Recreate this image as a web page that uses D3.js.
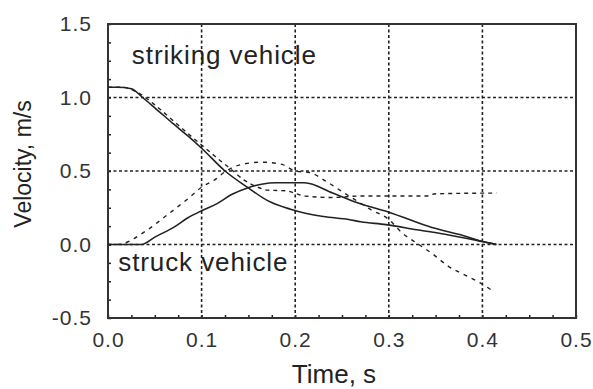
<!DOCTYPE html>
<html>
<head>
<meta charset="utf-8">
<script src="https://cdn.jsdelivr.net/npm/d3@7"></script>
<style>
  html, body { margin: 0; padding: 0; background: #fff; }
  svg { display: block; font-family: "Liberation Sans", Arial, sans-serif; }
</style>
</head>
<body>
<svg id="chart" width="593" height="389"></svg>
<script>
// Velocity vs time for the striking and struck vehicles (solid and dashed traces)

var xTicks = [0, 0.1, 0.2, 0.3, 0.4, 0.5];
var yTicks = [-0.5, 0, 0.5, 1.0, 1.5];

// striking vehicle, solid trace
var strikingSolidT = [0, 0.01, 0.025, 0.037, 0.05, 0.07, 0.085, 0.1, 0.125, 0.15, 0.17, 0.195, 0.23, 0.257, 0.27, 0.297, 0.33, 0.36, 0.4, 0.415];
var strikingSolidV = [1.07, 1.07, 1.06, 1.0, 0.93, 0.82, 0.74, 0.655, 0.5, 0.385, 0.3, 0.24, 0.19, 0.17, 0.155, 0.135, 0.1, 0.07, 0.02, 0.0];

// striking vehicle, dashed trace
var strikingDashT = [0, 0.015, 0.03, 0.05, 0.07, 0.09, 0.105, 0.12, 0.13, 0.145, 0.16, 0.17, 0.19, 0.21, 0.24, 0.27, 0.34, 0.35, 0.415];
var strikingDashV = [1.07, 1.07, 1.04, 0.95, 0.84, 0.73, 0.65, 0.57, 0.52, 0.44, 0.39, 0.37, 0.365, 0.33, 0.32, 0.33, 0.33, 0.345, 0.35];

// struck vehicle, solid trace
var struckSolidT = [0, 0.036, 0.05, 0.071, 0.085, 0.1, 0.117, 0.132, 0.149, 0.164, 0.18, 0.21, 0.24, 0.268, 0.3, 0.346, 0.38, 0.4, 0.415];
var struckSolidV = [0, 0, 0.05, 0.12, 0.18, 0.23, 0.28, 0.34, 0.385, 0.41, 0.42, 0.42, 0.35, 0.28, 0.22, 0.115, 0.06, 0.02, 0.0];

// struck vehicle, dashed trace
var struckDashT = [0, 0.01, 0.04, 0.063, 0.087, 0.1, 0.114, 0.124, 0.14, 0.165, 0.186, 0.2, 0.215, 0.233, 0.25, 0.27, 0.28, 0.3, 0.314, 0.332, 0.346, 0.364, 0.382, 0.4, 0.412];
var struckDashV = [0, 0, 0.09, 0.2, 0.32, 0.39, 0.44, 0.49, 0.54, 0.56, 0.545, 0.5, 0.49, 0.43, 0.36, 0.28, 0.24, 0.17, 0.08, 0.0, -0.06, -0.15, -0.21, -0.27, -0.32];

var labelText = ["striking vehicle", "struck vehicle"];
var labelT = [0.0255, 0.011];
var labelV = [1.23, -0.18];

var margin = { top: 24, right: 17, bottom: 71, left: 108 };
var W = 593, H = 389;
var width = W - margin.left - margin.right;
var height = H - margin.top - margin.bottom;

var x = d3.scaleLinear().domain([0, 0.5]).range([0, width]);
var y = d3.scaleLinear().domain([-0.5, 1.5]).range([height, 0]);

var svg = d3.select("#chart");
var g = svg.append("g").attr("transform", "translate(" + margin.left + "," + margin.top + ")");

var ink = "#222";
var fmt = function (d) { return d.toFixed(1); };

// dotted grid
g.append("g").selectAll("line").data(xTicks.slice(1, -1)).join("line")
    .attr("x1", function (d) { return x(d); }).attr("x2", function (d) { return x(d); })
    .attr("y1", 0).attr("y2", height)
    .attr("stroke", ink).attr("stroke-width", 1.6).attr("stroke-dasharray", "3,2.5");
g.append("g").selectAll("line").data(yTicks.slice(1, -1)).join("line")
    .attr("x1", 0).attr("x2", width)
    .attr("y1", function (d) { return y(d); }).attr("y2", function (d) { return y(d); })
    .attr("stroke", ink).attr("stroke-width", 1.6).attr("stroke-dasharray", "3,2.5");

// minor ticks (inward)
var xMinor = d3.range(0, 0.5001, 0.025);
var yMinor = d3.range(-0.5, 1.5001, 0.125);
g.append("g").attr("transform", "translate(0," + height + ")")
    .call(d3.axisBottom(x).tickValues(xMinor).tickSize(-3).tickFormat(""))
    .call(function (a) { a.select(".domain").remove(); a.selectAll("line").attr("stroke", ink).attr("stroke-width", 1.5); });
g.append("g")
    .call(d3.axisLeft(y).tickValues(yMinor).tickSize(-3).tickFormat(""))
    .call(function (a) { a.select(".domain").remove(); a.selectAll("line").attr("stroke", ink).attr("stroke-width", 1.5); });

// frame
g.append("rect").attr("x", 0).attr("y", 0).attr("width", width).attr("height", height)
    .attr("fill", "none").attr("stroke", "#333").attr("stroke-width", 2);

// tick labels
var xAxis = g.append("g").attr("transform", "translate(0," + height + ")")
    .call(d3.axisBottom(x).tickValues(xTicks).tickSize(0).tickPadding(14).tickFormat(fmt));
var yAxis = g.append("g")
    .call(d3.axisLeft(y).tickValues(yTicks).tickSize(0).tickPadding(16).tickFormat(fmt));
[xAxis, yAxis].forEach(function (a) {
    a.select(".domain").remove();
    a.selectAll("text").attr("font-size", 21).attr("fill", "#333")
        .attr("font-family", "Liberation Sans, Arial, sans-serif").attr("letter-spacing", 1);
});

// curves
var line = d3.line().x(function (d) { return x(d[0]); }).y(function (d) { return y(d[1]); });
function pairs(ts, vs) { return ts.map(function (t, i) { return [t, vs[i]]; }); }
var series = [
    { pts: pairs(strikingSolidT, strikingSolidV), dash: null },
    { pts: pairs(struckSolidT, struckSolidV), dash: null },
    { pts: pairs(strikingDashT, strikingDashV), dash: "4,4" },
    { pts: pairs(struckDashT, struckDashV), dash: "4,5" }
];
series.forEach(function (s) {
    g.append("path").datum(s.pts)
        .attr("d", line.curve(d3.curveMonotoneX))
        .attr("fill", "none").attr("stroke", "#222")
        .attr("stroke-width", s.dash ? 1.4 : 1.6)
        .attr("stroke-dasharray", s.dash);
});

// in-plot labels
g.append("g").selectAll("text").data(labelText).join("text")
    .attr("x", function (d, i) { return x(labelT[i]); })
    .attr("y", function (d, i) { return y(labelV[i]); })
    .attr("font-size", 26).attr("letter-spacing", 0.9).attr("fill", "#222")
    .text(function (d) { return d; });

// axis titles
svg.append("text")
    .attr("x", 334).attr("y", 383)
    .attr("text-anchor", "middle").attr("font-size", 26).attr("fill", "#222")
    .text("Time, s");
svg.append("text")
    .attr("transform", "translate(31,164) rotate(-90)")
    .attr("text-anchor", "middle").attr("font-size", 23).attr("fill", "#222")
    .text("Velocity, m/s");
</script>
</body>
</html>
